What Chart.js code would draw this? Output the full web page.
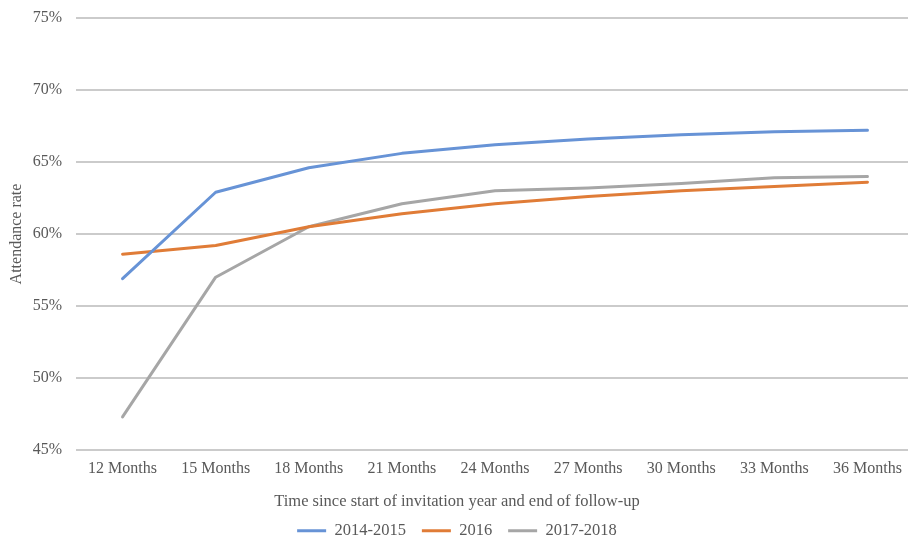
<!DOCTYPE html>
<html>
<head>
<meta charset="utf-8">
<script src="https://cdn.jsdelivr.net/npm/chart.js@4/dist/chart.umd.min.js"></script>
<style>
  html, body { margin: 0; padding: 0; background: #fff; overflow: hidden; }
  #wrap { width: 908px; height: 538px; overflow: hidden; }
</style>
</head>
<body>
<div id="wrap"><canvas id="chart" width="916" height="549"></canvas></div>
<script>
// valores (porcentaje de asistencia)
const months = ['12 Months', '15 Months', '18 Months', '21 Months', '24 Months',
                '27 Months', '30 Months', '33 Months', '36 Months'];
const y2014_2015 = [56.9, 62.9, 64.6, 65.6, 66.2, 66.6, 66.9, 67.1, 67.2];
const y2016      = [58.6, 59.2, 60.5, 61.4, 62.1, 62.6, 63.0, 63.3, 63.6];
const y2017_2018 = [47.3, 57.0, 60.5, 62.1, 63.0, 63.2, 63.5, 63.9, 64.0];
const seriesNames = ['2014-2015', '2016', '2017-2018'];
const yTicks = { min: 45, max: 75, step: 5 };

const serif = "'Liberation Serif', 'Times New Roman', serif";
const font  = { family: serif, size: 16 };
const font2 = { family: serif, size: 16.5, weight: 'normal' };
const gris  = '#595959';

function serie(label, data, color) {
  return {
    label, data,
    borderColor: color,
    backgroundColor: color,
    borderWidth: 3,
    pointRadius: 0,
    tension: 0,
    borderCapStyle: 'round',
    borderJoinStyle: 'round'
  };
}

new Chart(document.getElementById('chart'), {
  type: 'line',
  data: {
    labels: months,
    datasets: [
      serie(seriesNames[0], y2014_2015, '#6793d6'),
      serie(seriesNames[1], y2016,      '#e07c37'),
      serie(seriesNames[2], y2017_2018, '#a6a6a6')
    ]
  },
  options: {
    responsive: false,
    animation: false,
    devicePixelRatio: 1,
    layout: { padding: { top: 18, right: 2, left: 0, bottom: 0 } },
    scales: {
      x: {
        offset: true,
        grid: { display: false, drawTicks: false },
        border: { display: false },
        ticks: { font, color: gris, padding: 9, maxRotation: 0, autoSkip: false },
        afterFit: s => { s.height = 28; }
      },
      y: {
        min: yTicks.min,
        max: yTicks.max,
        grid: { color: '#cbcbcb', lineWidth: 2, drawTicks: false },
        border: { display: false },
        ticks: {
          stepSize: yTicks.step,
          font, color: gris, padding: 14,
          callback: v => v + '%'
        },
        title: {
          display: true,
          text: 'Attendance rate',
          font, color: gris,
          padding: { top: 7, bottom: 0 }
        },
        afterFit: s => {
          s.width = 76;
          s.paddingTop = 0;
          s.paddingBottom = 0;
        }
      }
    },
    plugins: {
      title: {
        display: true,
        position: 'bottom',
        weight: 500,
        text: 'Time since start of invitation year and end of follow-up',
        font: font2,
        color: gris,
        padding: { top: 14, bottom: -5.3 }
      },
      legend: {
        position: 'bottom',
        labels: {
          font: font2, color: gris,
          usePointStyle: true,
          pointStyle: 'line',
          pointStyleWidth: 29,
          padding: 16
        }
      },
      tooltip: { enabled: false }
    }
  }
});
</script>
</body>
</html>
